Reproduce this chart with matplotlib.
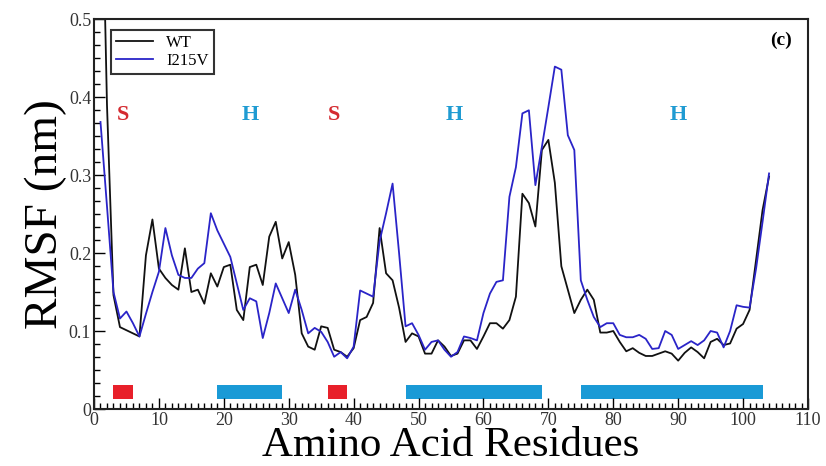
import matplotlib
matplotlib.use("Agg")
import matplotlib.pyplot as plt
from matplotlib.ticker import MultipleLocator, AutoMinorLocator, FuncFormatter

"""
RMSF per residue, WT vs I215V, with secondary structure bars.
"""

residues = list(range(1, 105))

rmsf_wt = [
    0.78, 0.39, 0.146, 0.105, 0.101, 0.097, 0.093, 0.197, 0.243, 0.180,
    0.168, 0.159, 0.153, 0.206, 0.150, 0.153, 0.135, 0.174, 0.157, 0.182,
    0.185, 0.127, 0.114, 0.182, 0.185, 0.159, 0.221, 0.240, 0.193, 0.214,
    0.172, 0.097, 0.080, 0.076, 0.106, 0.104, 0.076, 0.073, 0.067, 0.078,
    0.114, 0.118, 0.136, 0.232, 0.174, 0.165, 0.130, 0.086, 0.097, 0.093,
    0.071, 0.071, 0.088, 0.080, 0.068, 0.071, 0.088, 0.088, 0.077, 0.093,
    0.110, 0.110, 0.103, 0.114, 0.144, 0.276, 0.264, 0.234, 0.332, 0.345,
    0.290, 0.183, 0.153, 0.123, 0.140, 0.153, 0.140, 0.098, 0.098, 0.100,
    0.086, 0.074, 0.078, 0.072, 0.068, 0.068, 0.071, 0.074, 0.071, 0.062,
    0.072, 0.079, 0.073, 0.065, 0.086, 0.090, 0.082, 0.084, 0.103, 0.109,
    0.127, 0.191, 0.255, 0.298,
]

rmsf_mut = [
    0.368, 0.260, 0.150, 0.116, 0.125, 0.110, 0.093, 0.122, 0.150, 0.176,
    0.232, 0.197, 0.172, 0.168, 0.168, 0.180, 0.187, 0.251, 0.229, 0.212,
    0.195, 0.161, 0.127, 0.142, 0.138, 0.091, 0.123, 0.161, 0.142, 0.123,
    0.153, 0.127, 0.097, 0.104, 0.099, 0.086, 0.067, 0.073, 0.065, 0.080,
    0.152, 0.148, 0.144, 0.215, 0.251, 0.289, 0.200, 0.106, 0.110, 0.095,
    0.076, 0.086, 0.088, 0.076, 0.067, 0.073, 0.093, 0.091, 0.088, 0.123,
    0.148, 0.163, 0.165, 0.272, 0.310, 0.379, 0.383, 0.287, 0.336, 0.387,
    0.439, 0.435, 0.351, 0.332, 0.165, 0.140, 0.118, 0.105, 0.110, 0.110,
    0.095, 0.092, 0.092, 0.095, 0.090, 0.077, 0.078, 0.100, 0.095, 0.077,
    0.082, 0.087, 0.082, 0.088, 0.100, 0.098, 0.079, 0.100, 0.133, 0.131,
    0.130, 0.180, 0.240, 0.302,
]

# secondary structure segments (S = strand, H = helix)
ss_type = ["S", "H", "S", "H", "H"]
ss_start = [3, 19, 36, 48, 75]
ss_end = [6, 29, 39, 69, 103]
label_pos = [4.5, 24, 37, 55.5, 90]

ss_colors = {"S": "#e8202a", "H": "#1a9ad6"}
label_colors = {"S": "#d42a30", "H": "#1f9bd2"}

plt.rcParams["font.family"] = ["Liberation Serif", "DejaVu Serif"]

fig = plt.figure(figsize=(8.26, 4.66), dpi=100)
ax = fig.add_axes([0.1138, 0.1223, 0.8644, 0.8369])

ax.plot(residues, rmsf_wt, color="#111111", lw=1.3, label="WT")
ax.plot(residues, rmsf_mut, color="#2a24c8", lw=1.3, label="I215V")

# secondary structure bars + labels
for t, s, e, lx in zip(ss_type, ss_start, ss_end, label_pos):
    ax.broken_barh([(s, e - s)], (0.013, 0.018), facecolors=ss_colors[t])
    ax.text(lx, 0.377, t, color=label_colors[t], fontsize=16,
            fontweight="bold", ha="center", va="center")

ax.text(0.978, 0.945, "(c)", transform=ax.transAxes, fontsize=14,
        fontweight="bold", ha="right", va="center")

ax.set_xlim(0, 110)
ax.set_ylim(0, 0.5)
ax.xaxis.set_major_locator(MultipleLocator(10))
ax.xaxis.set_minor_locator(AutoMinorLocator(10))
ax.yaxis.set_major_locator(MultipleLocator(0.1))
ax.yaxis.set_minor_locator(AutoMinorLocator(6))
ax.yaxis.set_major_formatter(FuncFormatter(lambda v, p: "0" if abs(v) < 1e-9 else f"{v:.1f}"))

ax.tick_params(which="both", direction="in", top=False, right=False,
               labelsize=13, labelcolor="#333333", width=1.0)
ax.tick_params(which="major", length=8, pad=2)
ax.tick_params(which="minor", length=4)
for sp in ax.spines.values():
    sp.set_linewidth(1.5)
    sp.set_color("#222222")

# axis titles placed in figure coords so they fit the canvas
fig.text(0.545, 0.022, "Amino Acid Residues", fontsize=31,
         ha="center", va="baseline")
fig.text(0.055, 0.54, "RMSF (nm)", fontsize=34, rotation=90,
         ha="center", va="center")

leg = ax.legend(loc="upper left", bbox_to_anchor=(0.024, 0.972), fontsize=12,
                frameon=True, fancybox=False, edgecolor="black",
                handlelength=2.2, borderpad=0.3, labelspacing=0.1,
                borderaxespad=0)
leg.get_frame().set_linewidth(1.5)

fig.savefig("out.png", dpi=100)
